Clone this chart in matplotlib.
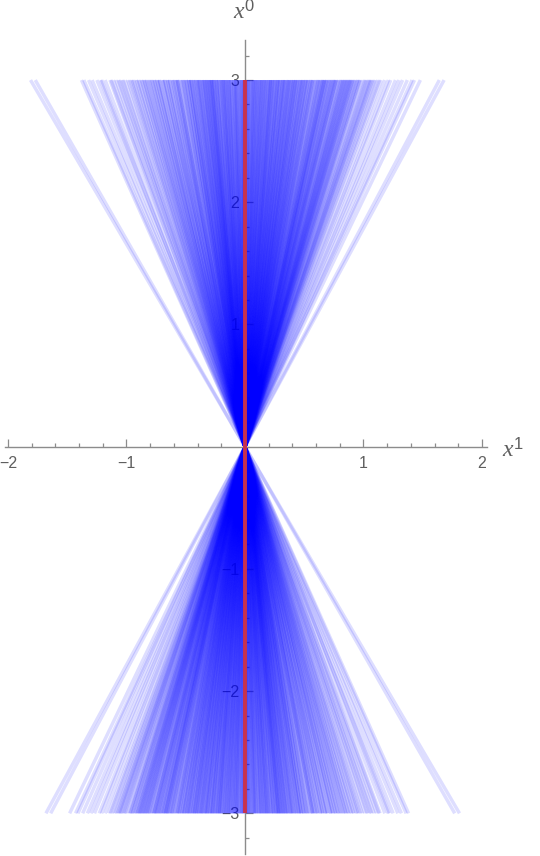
import numpy as np
import matplotlib
matplotlib.use("Agg")
import matplotlib.pyplot as plt
from matplotlib.ticker import FixedLocator

# x^1 reached at x^0 = 3 by each worldline through the origin
top_x1 = [
    -1.81, -1.77,
    -1.38, -1.36, -1.32,
    -1.29, -1.25, -1.22, -1.21,
    -1.18, -1.14, -1.13, -1.11,
    -1.09, -1.07, -1.06, -1.04, -1.03, -1.01,
    -0.99, -0.975, -0.96, -0.95, -0.94, -0.92, -0.915, -0.90,
    -0.89, -0.875, -0.87, -0.855, -0.85, -0.84, -0.83, -0.82, -0.81, -0.80,
    -0.79, -0.785, -0.77, -0.765, -0.76, -0.745, -0.74, -0.73, -0.725, -0.72, -0.70,
    -0.695, -0.69, -0.68, -0.675, -0.66, -0.655, -0.65, -0.64, -0.635, -0.62, -0.612, -0.61, -0.60,
    -0.59, -0.583, -0.575, -0.571, -0.57, -0.56, -0.548, -0.54, -0.53, -0.525, -0.519, -0.51, -0.50,
    -0.497, -0.495, -0.48, -0.475, -0.472, -0.468, -0.46, -0.455, -0.451, -0.44, -0.437, -0.43,
    -0.425, -0.418, -0.41, -0.405,
    -0.399, -0.395, -0.39, -0.386, -0.38, -0.37, -0.365, -0.361, -0.358, -0.35, -0.345, -0.341,
    -0.335, -0.33, -0.327, -0.32, -0.316, -0.31, -0.305, -0.301,
    -0.298, -0.29, -0.287, -0.283, -0.279, -0.276, -0.27, -0.266, -0.262, -0.255, -0.248, -0.243,
    -0.241, -0.236, -0.229, -0.222, -0.219, -0.214, -0.205, -0.201,
    -0.197, -0.19, -0.188, -0.184, -0.176, -0.172, -0.168, -0.163, -0.159, -0.152, -0.146, -0.141,
    -0.137, -0.133, -0.128, -0.12, -0.117, -0.113, -0.104,
    -0.098, -0.094, -0.089, -0.083, -0.081, -0.075, -0.071, -0.066, -0.06, -0.052, -0.048, -0.043,
    -0.037, -0.033, -0.028, -0.021, -0.017, -0.013, -0.009, -0.006,
    0.004, 0.008, 0.011, 0.019, 0.023, 0.026, 0.031, 0.034, 0.041, 0.049, 0.052, 0.058, 0.064,
    0.067, 0.072, 0.078, 0.081, 0.087, 0.092, 0.095,
    0.103, 0.107, 0.11, 0.118, 0.121, 0.127, 0.133, 0.138, 0.141, 0.146, 0.15, 0.157, 0.163,
    0.167, 0.172, 0.177, 0.18, 0.186, 0.195, 0.199,
    0.202, 0.209, 0.213, 0.217, 0.221, 0.226, 0.231, 0.236, 0.24, 0.248, 0.252, 0.255, 0.262,
    0.27, 0.273, 0.279, 0.281, 0.285, 0.294, 0.297,
    0.301, 0.309, 0.316, 0.318, 0.324, 0.329, 0.333, 0.339, 0.343, 0.347, 0.356, 0.362, 0.367,
    0.37, 0.374, 0.378, 0.386, 0.393, 0.397,
    0.402, 0.408, 0.411, 0.417, 0.425, 0.428, 0.43, 0.439, 0.443, 0.447, 0.455, 0.461, 0.468,
    0.47, 0.478, 0.484, 0.487, 0.493, 0.498,
    0.505, 0.513, 0.516, 0.52, 0.53, 0.533, 0.538, 0.547, 0.555, 0.559, 0.566, 0.571, 0.574,
    0.583, 0.592, 0.598,
    0.606, 0.615, 0.619, 0.624, 0.633, 0.636, 0.645, 0.652, 0.657, 0.662, 0.666, 0.671, 0.675,
    0.684, 0.688, 0.693, 0.697,
    0.708, 0.713, 0.72, 0.725, 0.732, 0.739, 0.745, 0.751, 0.757, 0.763, 0.768, 0.771, 0.78,
    0.789, 0.794,
    0.806, 0.812, 0.818, 0.825, 0.83, 0.838, 0.843, 0.849, 0.856, 0.862, 0.868, 0.874, 0.881,
    0.887, 0.893, 0.898,
    0.905, 0.911, 0.92, 0.928, 0.934, 0.947, 0.953, 0.962, 0.969, 0.976, 0.99,
    1.008, 1.017, 1.025, 1.04, 1.049, 1.058, 1.066, 1.075, 1.09,
    1.101, 1.12, 1.135, 1.15, 1.18,
    1.21, 1.23, 1.27,
    1.30, 1.33, 1.37,
    1.41, 1.43, 1.48,
    1.64, 1.68,
]
x0_range = [-3, 3]
rest_x1 = [0, 0]

x_major = [-2, -1, 1, 2]
x_major_labels = ["\u22122", "\u22121", "1", "2"]
y_major = [-3, -2, -1, 1, 2, 3]
y_major_labels = ["\u22123", "\u22122", "\u22121", "1", "2", "3"]

plt.rcParams["font.family"] = ["Liberation Sans", "DejaVu Sans"]
plt.rcParams["mathtext.fontset"] = "custom"
plt.rcParams["mathtext.it"] = "Liberation Serif:italic"
plt.rcParams["mathtext.rm"] = "Liberation Sans"

axis_gray = "#8c8c8c"
label_gray = "#5f5f5f"

fig = plt.figure(figsize=(5.4, 8.56), dpi=100)
ax = fig.add_axes([0, 0, 1, 1])

# worldlines
for v in top_x1:
    ax.plot([-v, v], x0_range, color=(0, 0, 1), alpha=0.13, lw=2.5,
            solid_capstyle="butt")
# rest frame
ax.plot(rest_x1, x0_range, color="#c8324f", lw=2.8, zorder=3,
        solid_capstyle="butt")

ax.set_xlim(-2.0675, 2.4895)
ax.set_ylim(-3.349, 3.655)

for s in ["top", "right"]:
    ax.spines[s].set_visible(False)
ax.spines["left"].set_position(("data", 0))
ax.spines["bottom"].set_position(("data", 0))
ax.spines["bottom"].set_bounds(-2.025, 2.04)
ax.spines["left"].set_bounds(-3.33, 3.33)
for s in ["left", "bottom"]:
    ax.spines[s].set_color(axis_gray)
    ax.spines[s].set_linewidth(1.0)

ax.set_xticks(x_major)
ax.set_xticklabels(x_major_labels)
ax.set_yticks(y_major)
ax.set_yticklabels(y_major_labels)
ax.xaxis.set_minor_locator(FixedLocator(np.round(np.arange(-1.8, 2.0, 0.2), 2)))
ax.yaxis.set_minor_locator(FixedLocator(np.round(np.arange(-3.2, 3.3, 0.2), 2)))
ax.tick_params(which="both", direction="in", color=axis_gray, width=0.9,
               labelcolor=label_gray, labelsize=11.5)
ax.tick_params(which="major", length=5.5)
ax.tick_params(which="minor", length=3)
ax.tick_params(axis="x", pad=7)
ax.tick_params(axis="y", pad=4)

ax.text(2.17, -0.03, r"$x^{1}$", ha="left", va="center", fontsize=17,
        color=label_gray)
ax.text(-0.01, 3.56, r"$x^{0}$", ha="center", va="center", fontsize=17,
        color=label_gray)

fig.savefig("out.png", dpi=100)
